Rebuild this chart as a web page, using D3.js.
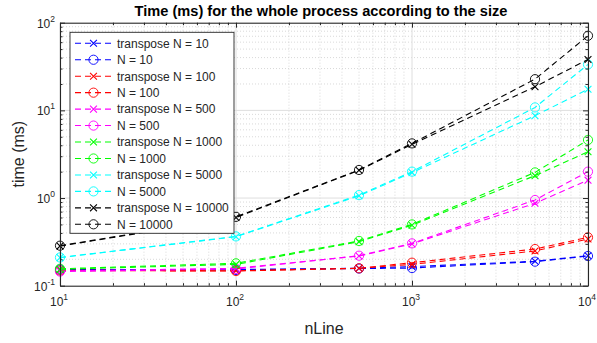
<!DOCTYPE html>
<html>
<head>
<meta charset="utf-8">
<script src="https://cdn.jsdelivr.net/npm/d3@7"></script>
<style>
  body { margin: 0; background: #fff; }
  svg { font-family: "Liberation Sans", Arial, sans-serif; }
</style>
</head>
<body>
<svg id="chart" width="597" height="343"></svg>
<script>
const width = 597;
const height = 343;
const margin = { left: 60, right: 9, top: 22.7, bottom: 57.3 };

const nLine = [10, 100, 500, 1000, 5000, 10000];
const xTicks = [10, 100, 1000, 10000];
const yTicks = [0.1, 1, 10, 100];

const transpose10 = [0.152, 0.153, 0.158, 0.165, 0.19, 0.22];
const n10 = [0.153, 0.151, 0.157, 0.159, 0.188, 0.218];
const transpose100 = [0.15, 0.148, 0.158, 0.175, 0.249, 0.341];
const n100 = [0.149, 0.147, 0.158, 0.183, 0.262, 0.356];
const transpose500 = [0.147, 0.158, 0.218, 0.3, 0.87, 1.6];
const n500 = [0.145, 0.155, 0.22, 0.304, 0.95, 2.0];
const transpose1000 = [0.154, 0.175, 0.318, 0.49, 1.8, 3.37];
const n1000 = [0.156, 0.18, 0.324, 0.5, 1.96, 4.6];
const transpose5000 = [0.209, 0.362, 1.06, 1.95, 8.7, 17.4];
const n5000 = [0.21, 0.365, 1.08, 2.0, 10.8, 33.4];
const transpose10000 = [0.283, 0.6, 2.07, 4.1, 18.6, 38.1];
const n10000 = [0.286, 0.61, 2.09, 4.2, 22.7, 71];

const series = [
  { name: "transpose N = 10", values: transpose10, color: "#0000ff", marker: "x" },
  { name: "N = 10", values: n10, color: "#0000ff", marker: "o" },
  { name: "transpose N = 100", values: transpose100, color: "#ff0000", marker: "x" },
  { name: "N = 100", values: n100, color: "#ff0000", marker: "o" },
  { name: "transpose N = 500", values: transpose500, color: "#ff00ff", marker: "x" },
  { name: "N = 500", values: n500, color: "#ff00ff", marker: "o" },
  { name: "transpose N = 1000", values: transpose1000, color: "#00ff00", marker: "x" },
  { name: "N = 1000", values: n1000, color: "#00ff00", marker: "o" },
  { name: "transpose N = 5000", values: transpose5000, color: "#00ffff", marker: "x" },
  { name: "N = 5000", values: n5000, color: "#00ffff", marker: "o" },
  { name: "transpose N = 10000", values: transpose10000, color: "#000000", marker: "x" },
  { name: "N = 10000", values: n10000, color: "#000000", marker: "o" }
];

const svg = d3.select("#chart");
const x0 = margin.left, x1 = width - margin.right;
const y0 = height - margin.bottom, y1 = margin.top;

const xScale = d3.scaleLog().domain([10, 10000]).range([x0, x1]);
const yScale = d3.scaleLog().domain([0.1, 100]).range([y0, y1]);

// minor values
const minors = (lo, hi) => {
  const out = [];
  for (let d = lo; d < hi; d *= 10) for (let k = 2; k <= 9; k++) out.push(d * k);
  return out;
};
const xMinor = minors(10, 10000);
const yMinor = minors(0.1, 100);

// grid
const grid = svg.append("g");
grid.selectAll(".gxm").data(xMinor).enter().append("line")
  .attr("x1", d => xScale(d)).attr("x2", d => xScale(d))
  .attr("y1", y0).attr("y2", y1)
  .attr("stroke", "#c8c8c8").attr("stroke-width", 0.7).attr("stroke-dasharray", "1,2");
grid.selectAll(".gym").data(yMinor).enter().append("line")
  .attr("y1", d => yScale(d)).attr("y2", d => yScale(d))
  .attr("x1", x0).attr("x2", x1)
  .attr("stroke", "#c8c8c8").attr("stroke-width", 0.7).attr("stroke-dasharray", "1,2");
grid.selectAll(".gx").data(xTicks).enter().append("line")
  .attr("x1", d => xScale(d)).attr("x2", d => xScale(d))
  .attr("y1", y0).attr("y2", y1)
  .attr("stroke", "#dedede").attr("stroke-width", 1);
grid.selectAll(".gy").data(yTicks).enter().append("line")
  .attr("y1", d => yScale(d)).attr("y2", d => yScale(d))
  .attr("x1", x0).attr("x2", x1)
  .attr("stroke", "#dedede").attr("stroke-width", 1);

// data
const line = d3.line().x((d, i) => xScale(nLine[i])).y(d => yScale(d));
const marks = svg.append("g");

function drawMarker(g, cx, cy, type, color) {
  if (type === "o") {
    g.append("circle").attr("cx", cx).attr("cy", cy).attr("r", 4.6)
      .attr("fill", "none").attr("stroke", color).attr("stroke-width", 0.9);
  } else {
    const s = 3.4;
    g.append("path")
      .attr("d", `M${cx - s},${cy - s}L${cx + s},${cy + s}M${cx - s},${cy + s}L${cx + s},${cy - s}`)
      .attr("stroke", color).attr("stroke-width", 1.1);
  }
}

series.forEach(s => {
  marks.append("path")
    .attr("d", line(s.values))
    .attr("fill", "none")
    .attr("stroke", s.color)
    .attr("stroke-width", 1.1)
    .attr("stroke-dasharray", "6,4");
  s.values.forEach((v, i) => drawMarker(marks, xScale(nLine[i]), yScale(v), s.marker, s.color));
});

// axes box
const axisColor = "#262626";
const xAxis = d3.axisBottom(xScale).tickValues(xTicks).tickSizeInner(-5).tickSizeOuter(0).tickFormat("");
const xAxisTop = d3.axisTop(xScale).tickValues(xTicks).tickSizeInner(-5).tickSizeOuter(0).tickFormat("");
const yAxis = d3.axisLeft(yScale).tickValues(yTicks).tickSizeInner(-5).tickSizeOuter(0).tickFormat("");
const yAxisRight = d3.axisRight(yScale).tickValues(yTicks).tickSizeInner(-5).tickSizeOuter(0).tickFormat("");

const axes = [
  [xAxis, `translate(0,${y0})`, d3.axisBottom, xScale, xMinor],
  [xAxisTop, `translate(0,${y1})`, d3.axisTop, xScale, xMinor],
  [yAxis, `translate(${x0},0)`, d3.axisLeft, yScale, yMinor],
  [yAxisRight, `translate(${x1},0)`, d3.axisRight, yScale, yMinor]
];
axes.forEach(([ax, tr, fn, sc, mn]) => {
  const g = svg.append("g").attr("transform", tr).call(ax);
  svg.append("g").attr("transform", tr)
    .call(fn(sc).tickValues(mn).tickSizeInner(-2.5).tickSizeOuter(0).tickFormat(""))
    .call(gg => gg.select(".domain").remove());
  svg.selectAll("g .tick line").attr("stroke", axisColor);
  g.select(".domain").attr("stroke", axisColor).attr("stroke-width", 1.1);
});

// tick labels with superscripts
const xl = svg.append("g");
xTicks.forEach(t => {
  const e = Math.round(Math.log10(t));
  const txt = xl.append("text").attr("x", xScale(t) - 1).attr("y", y0 + 20)
    .attr("text-anchor", "middle").attr("font-size", 12).attr("fill", axisColor);
  txt.append("tspan").text("10");
  txt.append("tspan").attr("dy", -6).attr("font-size", 8.5).text(e);
});
yTicks.forEach(t => {
  const e = Math.round(Math.log10(t));
  const txt = xl.append("text").attr("x", x0 - 5).attr("y", yScale(t) + 5)
    .attr("text-anchor", "end").attr("font-size", 12).attr("fill", axisColor);
  txt.append("tspan").text("10");
  txt.append("tspan").attr("dy", -6).attr("font-size", 8.5).text(e);
});

// labels
svg.append("text").attr("x", (x0 + x1) / 2 - 3).attr("y", 16)
  .attr("text-anchor", "middle").attr("font-weight", "bold").attr("font-size", 14.6)
  .text("Time (ms) for the whole process according to the size");
svg.append("text").attr("x", (x0 + x1) / 2).attr("y", 334)
  .attr("text-anchor", "middle").attr("font-size", 16).attr("fill", axisColor)
  .text("nLine");
svg.append("text").attr("transform", `translate(24,${(y0 + y1) / 2}) rotate(-90)`)
  .attr("text-anchor", "middle").attr("font-size", 16).attr("fill", axisColor)
  .text("time (ms)");

// legend
const lg = svg.append("g");
const lx = 70, ly = 32.3, lw = 164, lh = 201;
lg.append("rect").attr("x", lx).attr("y", ly).attr("width", lw).attr("height", lh)
  .attr("fill", "#fff").attr("stroke", axisColor).attr("stroke-width", 0.9);
const rowY = d3.scaleLinear().domain([0, series.length - 1]).range([43.3, 224.3]);
series.forEach((s, i) => {
  const yy = rowY(i);
  lg.append("line").attr("x1", 75).attr("x2", 113).attr("y1", yy).attr("y2", yy)
    .attr("stroke", s.color).attr("stroke-width", 1.1).attr("stroke-dasharray", "6,4");
  drawMarker(lg, 93.5, yy, s.marker, s.color);
  lg.append("text").attr("x", 117).attr("y", yy + 4.3).attr("font-size", 12)
    .attr("fill", axisColor).text(s.name);
});
</script>
</body>
</html>
